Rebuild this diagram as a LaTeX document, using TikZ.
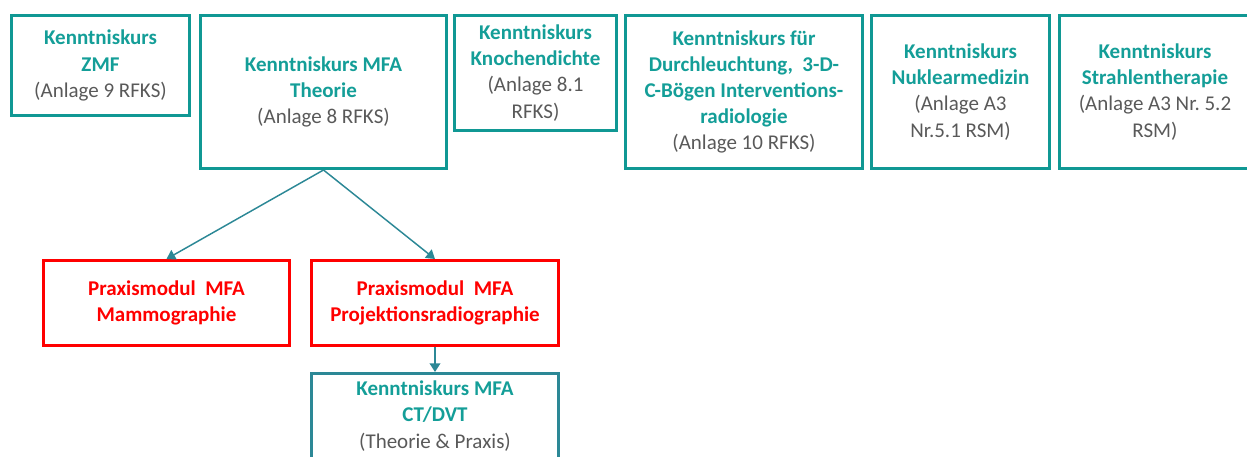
\documentclass[tikz,border=0pt]{standalone}
\usepackage{fontspec}
\setmainfont{Carlito}
\usepackage{tikz}
\usetikzlibrary{arrows.meta}
\definecolor{kteal}{RGB}{20,158,152}
\definecolor{kline}{RGB}{16,152,148}
\definecolor{kblue}{RGB}{44,136,150}
\definecolor{kgray}{RGB}{89,89,89}
\definecolor{kred}{RGB}{255,0,0}
\newcommand{\kt}[1]{\textcolor{kteal}{\bfseries #1}}
\newcommand{\kr}[1]{\textcolor{kred}{\bfseries #1}}
\frenchspacing

\begin{document}
\begin{tikzpicture}[x=0.75pt,y=-0.75pt,
  kbox/.style={draw=kline, line width=2.25pt, inner sep=0pt, align=center,
    text=kgray, font=\fontsize{15.75}{19.6}\selectfont},
  rbox/.style={kbox, draw=kred},
  cbox/.style={kbox, draw=kblue},
  karrow/.style={draw=kblue, line width=1.1pt, -{Triangle[width=8pt,length=6.5pt]}}]
\useasboundingbox (0,0) rectangle (1247,457);
\clip (0,0) rectangle (1247,457);
% obere Reihe
\node[kbox, minimum width=133.5pt, minimum height=75pt] (zmf) at (100.5,65.5)
  {\kt{Kenntniskurs}\\\kt{ZMF}\\(Anlage 9 RFKS)};
\node[kbox, minimum width=184.5pt, minimum height=114.75pt] (theorie) at (323.5,92)
  {\kt{Kenntniskurs MFA}\\\kt{Theorie}\\(Anlage 8 RFKS)};
\node[kbox, minimum width=121.5pt, minimum height=86.25pt] (knochen) at (535.5,73)
  {\kt{Kenntniskurs}\\\kt{Knochendichte}\\(Anlage 8.1\\RFKS)};
\node[kbox, minimum width=177.75pt, minimum height=114.75pt] (durch) at (744,92)
  {\kt{Kenntniskurs f\"ur}\\\kt{Durchleuchtung,\ \ 3-D-}\\\kt{C-B\"ogen Interventions-}\\\kt{radiologie}\\(Anlage 10 RFKS)};
\node[kbox, minimum width=133.5pt, minimum height=114.75pt] (nuklear) at (960.5,92)
  {\kt{Kenntniskurs}\\\kt{Nuklearmedizin}\\(Anlage A3\\Nr.5.1 RSM)};
\node[kbox, minimum width=143.25pt, minimum height=114.75pt] (strahlen) at (1155,92)
  {\kt{Kenntniskurs}\\\kt{Strahlentherapie}\\(Anlage A3 Nr. 5.2\\RSM)};
% Praxismodule
\node[rbox, minimum width=184.5pt, minimum height=63.75pt] (mammo) at (166.5,303)
  {\kr{Praxismodul\ \ MFA}\\\kr{Mammographie}};
\node[rbox, minimum width=185.25pt, minimum height=63.75pt] (projektion) at (435,303)
  {\kr{Praxismodul\ \ MFA}\\\kr{Projektionsradiographie}};
\node[cbox, minimum width=185.25pt, minimum height=63.75pt] (ctdvt) at (435,416)
  {\kt{Kenntniskurs MFA}\\\kt{CT/DVT}\\(Theorie \& Praxis)};

\draw[karrow] (theorie.south) -- (mammo.north);
\draw[karrow] (theorie.south) -- (projektion.north);
\draw[karrow] (projektion.south) -- (ctdvt.north);
\end{tikzpicture}
\end{document}
